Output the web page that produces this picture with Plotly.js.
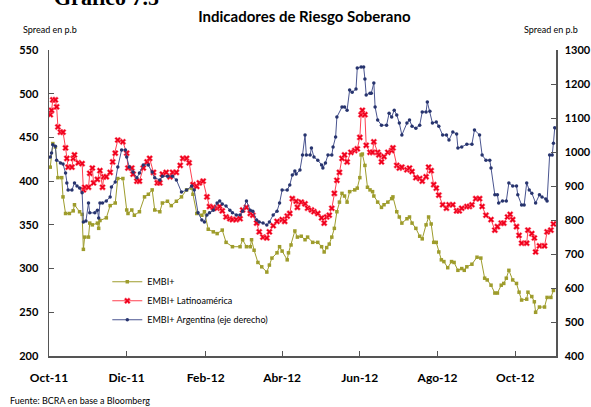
<!DOCTYPE html>
<html>
<head>
<meta charset="utf-8">
<script src="https://cdn.plot.ly/plotly-3.0.1.min.js"></script>
<style>html,body{margin:0;padding:0;background:#fff;}#chart{width:591px;height:407px;}</style>
</head>
<body>
<div id="chart"></div>
<script>
// Day offsets from 2011-10-01 and spread values (p.b.)
const embiDays = [1,3,5,7,10,11,13,16,19,20,24,26,27,28,31,32,34,38,39,40,45,48,52,54,58,61,62,65,67,71,75,78,81,83,87,89,93,96,100,104,108,112,113,116,120,122,125,129,132,136,139,144,150,152,155,158,159,161,164,167,171,173,175,179,181,183,187,188,190,193,195,198,201,203,207,211,214,216,218,220,222,224,226,228,230,232,234,236,240,242,244,245,246,248,250,252,254,255,258,261,263,266,269,270,273,275,277,281,283,285,288,291,293,296,298,300,302,304,306,308,310,313,316,318,321,324,326,328,332,336,339,342,344,347,350,352,355,357,359,361,364,367,369,371,375,376,379,381,382,385,389,391,394,396];
const embiVals = [416,443,439,404,404,382,363,363,366,373,365,362,322,336,336,352,350,352,346,355,358,372,375,403,403,367,363,367,361,365,382,385,390,367,365,375,377,372,377,382,390,392,385,363,361,365,345,342,340,344,330,325,325,333,325,325,333,321,307,302,296,304,312,318,325,320,310,318,327,343,336,337,333,336,330,330,325,319,324,328,336,346,365,376,386,383,376,388,390,392,404,430,431,418,393,390,388,383,376,370,373,376,380,382,365,359,352,357,359,352,346,337,334,350,359,351,330,330,319,310,308,301,308,307,298,300,298,302,305,313,312,289,287,281,272,272,281,283,289,298,287,283,273,264,265,273,268,262,250,256,256,267,267,275];

const latamDays = [1,2,3,5,6,7,9,11,13,14,15,18,19,20,23,26,27,28,31,32,34,35,38,40,42,43,45,48,50,52,54,58,61,62,65,66,69,71,74,77,79,82,85,87,89,92,95,97,100,103,105,108,110,113,116,118,121,124,126,129,132,134,136,139,142,144,147,150,152,155,158,160,163,165,168,171,173,176,179,183,185,187,189,191,194,195,198,201,203,206,208,211,214,216,218,220,222,224,226,228,230,232,234,237,240,242,244,245,246,248,249,252,254,255,258,259,261,263,266,269,270,273,275,277,281,283,285,288,291,293,296,298,300,302,304,306,309,312,314,317,320,322,324,328,330,332,335,338,340,343,347,350,352,355,357,360,362,364,367,369,371,375,376,379,381,382,385,389,391,394,396];
const latamVals = [476,481,493,493,485,462,456,456,438,426,416,416,426,430,421,420,390,393,393,409,415,398,402,412,393,405,405,410,422,432,447,445,432,415,415,408,400,400,415,422,426,410,398,398,408,410,405,410,410,418,426,426,421,396,394,398,400,382,371,370,369,371,366,359,357,356,356,357,367,370,363,361,352,342,336,335,342,349,354,356,354,360,363,380,377,370,376,374,369,367,365,363,358,352,359,361,369,386,401,410,426,430,422,433,435,437,450,476,481,476,441,433,433,445,433,430,422,428,433,435,438,418,415,416,413,415,411,404,403,400,405,416,412,396,392,384,373,369,373,373,366,366,369,371,371,373,380,380,371,361,356,344,348,352,352,359,362,356,348,338,329,329,344,340,335,319,326,326,342,344,351];

const argDays = [1,2,3,5,6,9,11,13,14,15,18,20,22,24,26,27,29,31,32,36,38,39,40,42,45,48,49,52,54,57,60,61,63,66,69,71,74,78,81,83,87,89,93,97,100,104,108,112,114,117,120,122,124,126,129,132,134,136,139,142,144,147,150,152,155,158,160,163,165,168,171,173,176,179,181,183,187,189,191,193,194,197,199,201,202,205,206,208,211,214,215,217,219,222,223,225,226,230,232,234,236,238,241,242,245,247,248,249,252,253,255,256,258,261,265,267,269,271,273,275,277,281,283,285,288,291,293,296,297,299,301,304,306,309,312,314,317,320,321,324,328,332,334,338,340,343,346,347,350,352,353,356,359,361,364,367,368,371,373,375,377,379,382,385,387,390,391,393,395,396,397];
const argVals = [985,997,1021,1017,976,968,965,938,909,888,888,909,900,894,880,794,797,850,821,821,829,806,850,850,856,868,897,912,956,1006,1006,985,956,941,924,938,962,962,941,924,918,929,929,929,918,882,888,900,888,821,800,794,815,821,829,850,856,847,841,829,821,815,815,826,856,829,826,800,794,791,785,794,815,826,850,888,888,903,932,944,935,947,991,1050,991,991,1012,985,976,962,953,968,991,991,1015,1044,1103,1132,1132,1123,1182,1176,1185,1247,1250,1250,1215,1168,1173,1173,1203,1132,1094,1079,1079,1114,1103,1123,1109,1085,1050,1085,1094,1076,1070,1079,1118,1118,1147,1120,1085,1088,1076,1050,1050,1035,1059,1053,1012,1015,1023,1023,1065,1050,991,976,976,953,874,874,850,856,856,909,900,900,874,844,844,909,888,879,850,874,868,862,856,991,991,1026,1071];

const tickDates = ['2011-10-01','2011-12-01','2012-02-01','2012-04-01','2012-06-01','2012-08-01','2012-10-01'];
const tickLabels = ['Oct-11','Dic-11','Feb-12','Abr-12','Jun-12','Ago-12','Oct-12'];
const seriesNames = ['EMBI+','EMBI+ Latinoamérica','EMBI+ Argentina (eje derecho)'];

function toDate(d){
  return new Date(Date.UTC(2011,9,1) + d*86400000).toISOString().slice(0,10);
}

const FONT = 'Lato, "Open Sans", sans-serif';

const traces = [
  {x: embiDays.map(toDate), y: embiVals, name: seriesNames[0], type:'scatter', mode:'lines+markers',
   line:{color:'#9e9c2c', width:1}, marker:{color:'#9e9c2c', size:3.5, symbol:'square'}, yaxis:'y'},
  {x: latamDays.map(toDate), y: latamVals, name: seriesNames[1], type:'scatter', mode:'lines+markers',
   line:{color:'#ff4050', width:1}, marker:{color:'#f0001c', size:5.5, symbol:'x', line:{color:'#ff8090', width:0.5}}, yaxis:'y'},
  {x: argDays.map(toDate), y: argVals, name: seriesNames[2], type:'scatter', mode:'lines+markers',
   line:{color:'#4a5590', width:1}, marker:{color:'#27346e', size:3.5, symbol:'circle'}, yaxis:'y2'}
];

const tickFont = {size:11, family:FONT, weight:'bold'};

const layout = {
  width:591, height:407,
  margin:{l:49, r:35, t:50, b:51},
  paper_bgcolor:'#fff', plot_bgcolor:'#fff',
  font:{family:FONT, color:'#000'},
  title:{text:'<b>Indicadores de Riesgo Soberano</b>', font:{size:15, family:FONT, color:'#000'}, x:0.515, xanchor:'center', y:0.958, yanchor:'middle'},
  showlegend:true,
  legend:{x:0.115, y:0.29, xanchor:'left', yanchor:'top', bgcolor:'rgba(0,0,0,0)', font:{size:9, family:FONT}, tracegroupgap:0, itemwidth:30},
  xaxis:{type:'date', range:['2011-10-01','2012-11-02'], tickvals:tickDates, ticktext:tickLabels,
    ticks:'inside', ticklen:5, tickcolor:'#555', showline:true, linecolor:'#555', linewidth:1.5,
    showgrid:false, zeroline:false, tickfont:{size:12, family:FONT, weight:'bold'}, ticklabelstandoff:10},
  yaxis:{range:[200,550], dtick:50, tick0:200, ticks:'inside', ticklen:5, tickcolor:'#555', showline:true, linecolor:'#555', linewidth:1.5,
    showgrid:false, zeroline:false, tickfont:tickFont, ticklabelstandoff:7},
  yaxis2:{range:[400,1300], dtick:100, tick0:400, overlaying:'y', side:'right', ticks:'inside', ticklen:5, tickcolor:'#555', showline:true, linecolor:'#555', linewidth:1.5,
    showgrid:false, zeroline:false, tickfont:tickFont, ticklabelstandoff:5},
  annotations:[
    {text:'Spread en p.b', xref:'paper', yref:'paper', x:-0.055, y:1.068, xanchor:'left', yanchor:'middle', showarrow:false, font:{size:9, family:FONT}},
    {text:'Spread en p.b', xref:'paper', yref:'paper', x:1.048, y:1.068, xanchor:'right', yanchor:'middle', showarrow:false, font:{size:9, family:FONT}},
    {text:'Fuente: BCRA en base a Bloomberg', xref:'paper', yref:'paper', x:-0.08, y:-0.145, xanchor:'left', yanchor:'middle', showarrow:false, font:{size:9, family:FONT}},
    {text:'<b>Gráfico 7.5</b>', xref:'paper', yref:'paper', x:0.005, y:1.125, xanchor:'left', yanchor:'bottom', showarrow:false, font:{size:22, family:'"Liberation Serif", serif'}}
  ]
};

Plotly.newPlot('chart', traces, layout, {displayModeBar:false, staticPlot:true});
</script>
</body>
</html>
